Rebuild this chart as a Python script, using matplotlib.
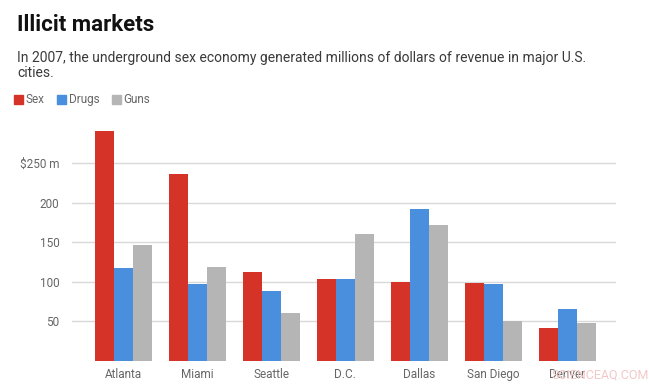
import matplotlib
matplotlib.use("Agg")
import matplotlib.pyplot as plt
import numpy as np

cities = ["Atlanta", "Miami", "Seattle", "D.C.", "Dallas", "San Diego", "Denver"]
sex = [291, 236, 112, 103, 100, 98, 42]
drugs = [118, 97, 88, 103, 192, 97, 66]
guns = [147, 119, 61, 160, 172, 50, 48]
series_names = ["Sex", "Drugs", "Guns"]
colors = ["#d63328", "#4a8ede", "#b5b5b5"]
yticks = [50, 100, 150, 200, 250]
ytick_labels = ["50", "100", "150", "200", "$250 m"]

plt.rcParams['font.family'] = ['Roboto', 'DejaVu Sans']

W, H = 649, 384
fig = plt.figure(figsize=(W / 100, H / 100), dpi=100)
ax = fig.add_axes([72 / W, 23.2 / H, (616 - 72) / W, (260.2 - 23.2) / H])

x = np.arange(len(cities))
bw = 0.257
for i, (vals, c) in enumerate(zip([sex, drugs, guns], colors)):
    ax.bar(x + (i - 1) * bw, vals, width=bw, color=c, zorder=2, linewidth=0)

ax.set_xlim(-0.69, 6.66)
ax.set_ylim(0, 300)
ax.set_yticks(yticks)
ax.set_yticklabels(ytick_labels)
ax.yaxis.grid(True, color="#d9d9d9", linewidth=1, zorder=0)
ax.set_xticks(x)
ax.set_xticklabels(cities)
ax.tick_params(axis="both", length=0, labelsize=8.5, colors="#666666")
ax.tick_params(axis="y", pad=9)
ax.tick_params(axis="x", pad=5)
for s in ax.spines.values():
    s.set_visible(False)

fig.text(17 / W, 1 - 25 / H, "Illicit markets", fontsize=16, fontweight="bold",
         color="#111111", va="center", ha="left")
fig.text(17 / W, 1 - 58 / H, "In 2007, the underground sex economy generated millions of dollars of revenue in major U.S.",
         fontsize=10, color="#3a3a3a", va="center", ha="left")
fig.text(17 / W, 1 - 73 / H, "cities.", fontsize=10, color="#3a3a3a", va="center", ha="left")

# legend
lx = 14
for name, c in zip(series_names, colors):
    fig.patches.append(plt.Rectangle((lx / W, 1 - 104 / H), 9 / W, 9 / H,
                                     transform=fig.transFigure, color=c, figure=fig))
    t = fig.text((lx + 12) / W, 1 - 99.5 / H, name, fontsize=8.5, color="#666666",
                 va="center", ha="left")
    fig.canvas.draw()
    bb = t.get_window_extent()
    lx = bb.x1 + 12

fig.text(551 / W, 1 - 375 / H, "SCIENCEAQ.COM", fontsize=9, color="#f2c8c8",
         ha="left", va="center", zorder=0)

fig.savefig("out.png", dpi=100)
